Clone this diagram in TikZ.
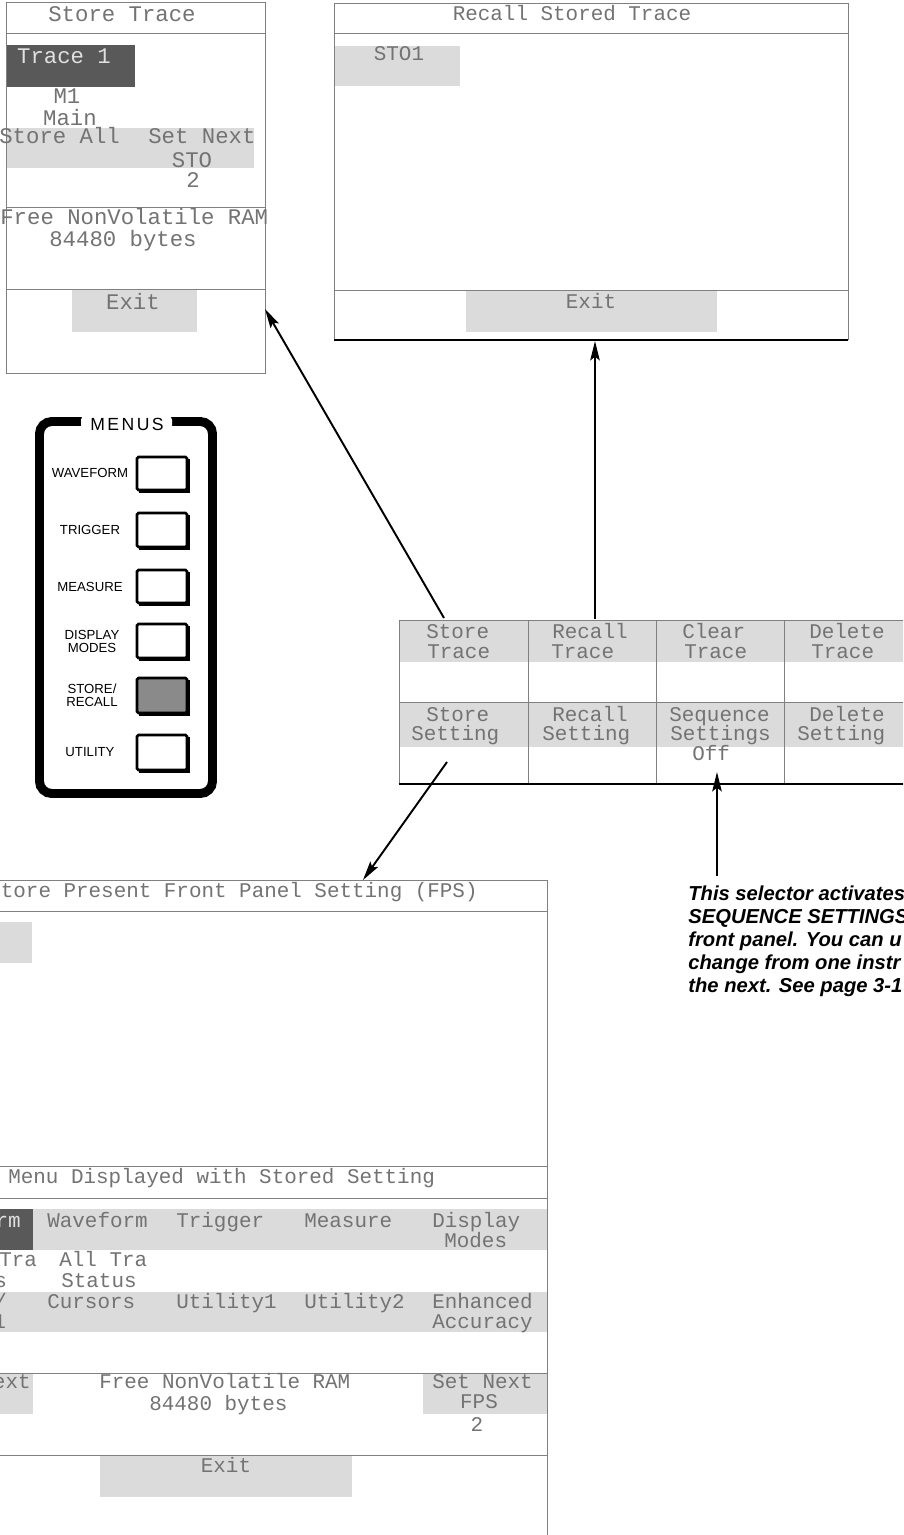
\documentclass[tikz,border=0pt]{standalone}
\usepackage{fontspec}
\usetikzlibrary{arrows.meta}
\newfontfamily\scrfont{Liberation Mono}
\newfontfamily\helfont{Liberation Sans}
\definecolor{scrtxt}{gray}{0.45}
\definecolor{scrline}{gray}{0.5}
\definecolor{lightfill}{gray}{0.86}
\definecolor{darkfill}{gray}{0.35}
\definecolor{btn}{gray}{0.54}
\tikzset{
  scr/.style={font=\scrfont\fontsize{11.9}{12}\selectfont, text=scrtxt, inner sep=0pt, text height=6.8pt, text depth=0pt},
  scrbig/.style={scr, font=\scrfont\fontsize{12.7}{13}\selectfont, text height=7.2pt},
  inv/.style={text=black!12},
  frame/.style={draw=scrline, line width=0.5pt},
  heavy/.style={draw=black, line width=0.9pt},
  conn/.style={-{Stealth[length=11pt,width=5.4pt,inset=2pt]}, line width=1.1pt, black},
  lbl/.style={font=\helfont\fontsize{7.5}{7.4}\selectfont, inner sep=0pt, align=center},
  menustitle/.style={font=\helfont\fontsize{10}{10}\addfontfeatures{LetterSpace=14}\selectfont, inner sep=0pt},
  note/.style={font=\helfont\bfseries\itshape\fontsize{11.5}{13}\selectfont, inner sep=0pt, anchor=base west},
  button/.style={draw=black, line width=1.5pt, fill=white, rounded corners=0.8pt},
}
\begin{document}
\begin{tikzpicture}[x=0.02cm,y=-0.02cm]
\useasboundingbox (0,0) rectangle (903,1535);
\clip (0,0) rectangle (903,1535);
\fill[white] (0,0) rectangle (903,1535);

% ---------- Store Trace screen ----------
\fill[lightfill] (7,128) rectangle (254,168);
\fill[darkfill] (7,45) rectangle (135,87);
\fill[lightfill] (72,290) rectangle (197,332);
\draw[frame] (6,2) rectangle (265,373);
\draw[frame] (6,33) -- (265,33);
\draw[frame] (6,207) -- (265,207);
\draw[frame] (6,289) -- (265,289);
\node[scrbig] (st-title) at (122,15) {Store  Trace};
\node[scrbig,inv] (st-tr1) at (64,57) {Trace 1};
\node[scrbig] (st-m1) at (67,97) {M1};
\node[scrbig] (st-main) at (70,119) {Main};
\node[scrbig,anchor=west] (st-all) at (-1,137) {Store All};
\node[scrbig,anchor=west] (st-next) at (148,137) {Set Next};
\node[scrbig] (st-sto) at (192,161) {STO};
\node[scrbig] (st-two) at (193,181) {2};
\node[scrbig,anchor=west] (st-free) at (0,218) {Free NonVolatile RAM};
\node[scrbig] (st-bytes) at (123,240) {84480 bytes};
\node[scrbig] (st-exit) at (133,303) {Exit};

% ---------- Recall Stored Trace screen ----------
\fill[lightfill] (335,46) rectangle (460,86);
\fill[lightfill] (466,291) rectangle (717,332);
\draw[frame] (334,340) -- (334,3) -- (848,3) -- (848,340);
\draw[frame] (334,33) -- (848,33);
\draw[frame] (334,290) -- (848,290);
\draw[heavy] (334,340) -- (848,340);
\node[scr] (rc-title) at (572,15) {Recall Stored Trace};
\node[scr] (rc-sto1) at (399,55) {STO1};
\node[scr] (rc-exit) at (591,303) {Exit};

% ---------- selector grid ----------
\fill[lightfill] (399,620) rectangle (915,662);
\fill[lightfill] (399,702) rectangle (915,747);
\draw[frame] (399,784) -- (399,620) -- (915,620);
\draw[frame] (399,702) -- (915,702);
\foreach \cx in {528,656,784} \draw[frame] (\cx,620) -- (\cx,784);
\draw[heavy] (399,784) -- (915,784);
\node[scr,anchor=west] (g11a) at (426,633) {Store};
\node[scr,anchor=west] (g11b) at (427,653) {Trace};
\node[scr,anchor=west] (g12a) at (552,633) {Recall};
\node[scr,anchor=west] (g12b) at (551,653) {Trace};
\node[scr,anchor=west] (g13a) at (682,633) {Clear};
\node[scr,anchor=west] (g13b) at (684,653) {Trace};
\node[scr,anchor=west] (g14a) at (809,633) {Delete};
\node[scr,anchor=west] (g14b) at (811,653) {Trace};
\node[scr,anchor=west] (g21a) at (426,716) {Store};
\node[scr,anchor=west] (g21b) at (411,735) {Setting};
\node[scr,anchor=west] (g22a) at (552,716) {Recall};
\node[scr,anchor=west] (g22b) at (542,735) {Setting};
\node[scr,anchor=west] (g23a) at (669,716) {Sequence};
\node[scr,anchor=west] (g23b) at (670,735) {Settings};
\node[scr,anchor=west] (g23c) at (692,755) {Off};
\node[scr,anchor=west] (g24a) at (809,716) {Delete};
\node[scr,anchor=west] (g24b) at (797,735) {Setting};

% ---------- Store Present Front Panel Setting screen ----------
\fill[lightfill] (-5,922) rectangle (32,963);
\fill[lightfill] (0,1209) rectangle (547,1250);
\fill[darkfill] (-5,1209) rectangle (33,1250);
\fill[lightfill] (-5,1292) rectangle (547,1332);
\fill[lightfill] (-5,1373) rectangle (33,1414);
\fill[lightfill] (423,1373) rectangle (547,1414);
\fill[lightfill] (100,1455) rectangle (352,1497);
\draw[frame] (-10,880) -- (547,880) -- (547,1545);
\foreach \sy in {911,1166,1198,1373,1455} \draw[frame] (-10,\sy) -- (547,\sy);
\node[scr,anchor=east] (fp-title) at (478,892) {Store Present Front Panel Setting (FPS)};
\node[scr,anchor=west] (fp-menu) at (8,1178) {Menu Displayed with Stored Setting};
\node[scr,inv,anchor=west] (fp-r1c1) at (-80,1222) {Waveform};
\node[scr,anchor=west] (fp-r1c2) at (47,1222) {Waveform};
\node[scr,anchor=west] (fp-r1c3) at (176,1222) {Trigger};
\node[scr,anchor=west] (fp-r1c4) at (304,1222) {Measure};
\node[scr,anchor=west] (fp-r1c5) at (432,1222) {Display};
\node[scr,anchor=west] (fp-r1c5b) at (444,1242) {Modes};
\node[scr,anchor=west] (fp-r2c1) at (-1,1261) {Tra};
\node[scr,anchor=west] (fp-r2c1b) at (-6,1282) {s};
\node[scr,anchor=west] (fp-r2c2) at (59,1261) {All Tra};
\node[scr,anchor=west] (fp-r2c2b) at (61,1282) {Status};
\node[scr,anchor=west] (fp-r3c1) at (-6,1303) {/};
\node[scr,anchor=west] (fp-r3c1b) at (-7,1323) {1};
\node[scr,anchor=west] (fp-r3c2) at (47,1303) {Cursors};
\node[scr,anchor=west] (fp-r3c3) at (176,1303) {Utility1};
\node[scr,anchor=west] (fp-r3c4) at (304,1303) {Utility2};
\node[scr,anchor=west] (fp-r3c5) at (432,1303) {Enhanced};
\node[scr,anchor=west] (fp-r3c5b) at (432,1323) {Accuracy};
\node[scr,anchor=east] (fp-next1) at (31,1383) {Set Next};
\node[scr,anchor=west] (fp-free) at (99,1383) {Free NonVolatile RAM};
\node[scr,anchor=west] (fp-bytes) at (149,1405) {84480 bytes};
\node[scr,anchor=west] (fp-next2) at (432,1383) {Set Next};
\node[scr] (fp-fps) at (479,1403) {FPS};
\node[scr] (fp-two) at (477,1426) {2};
\node[scr] (fp-exit) at (226,1467) {Exit};

% ---------- MENUS panel ----------
\draw[black, line width=5.1pt, rounded corners=7pt] (39.5,421.5) rectangle (212.5,793.5);
\fill[white, rounded corners=3pt] (81,414.5) rectangle (172,431);
\node[menustitle] (menus) at (127,424) {MENUS};
\foreach \ya/\yb/\fc in {457/490/white, 513/547/white, 570/603/white, 624/658/white, 678/713/btn, 735/770/white}{
  \fill[black] (139,\ya+2) rectangle (189.5,\yb+2.5);
  \draw[button, fill=\fc] (137,\ya) rectangle (187,\yb);
}
\node[lbl] (b-wave) at (90,473) {WAVEFORM};
\node[lbl] (b-trig) at (90,530) {TRIGGER};
\node[lbl] (b-meas) at (90,587) {MEASURE};
\node[lbl] (b-disp) at (92,641) {DISPLAY\\MODES};
\node[lbl] (b-store) at (92,695) {STORE/\\RECALL};
\node[lbl] (b-util) at (90,752) {UTILITY};

% ---------- note ----------
\node[note] (n1) at (688,900) {This selector activates};
\node[note] (n2) at (688,923) {SEQUENCE SETTINGS};
\node[note] (n3) at (688,946) {front panel. You can u};
\node[note] (n4) at (688,969) {change from one instr};
\node[note] (n5) at (688,992) {the next. See page 3-1};

% ---------- connectors ----------
\coordinate (a1s) at (444,618); \coordinate (a1e) at (265,309);
\coordinate (a2s) at (595,619); \coordinate (a2e) at (595,341);
\coordinate (a3s) at (447,762); \coordinate (a3e) at (363,880);
\coordinate (a4s) at (717,876); \coordinate (a4e) at (717,772);
\draw[conn] (a1s) -- (a1e);
\draw[conn] (a2s) -- (a2e);
\draw[conn] (a3s) -- (a3e);
\draw[conn] (a4s) -- (a4e);
\end{tikzpicture}
\end{document}
